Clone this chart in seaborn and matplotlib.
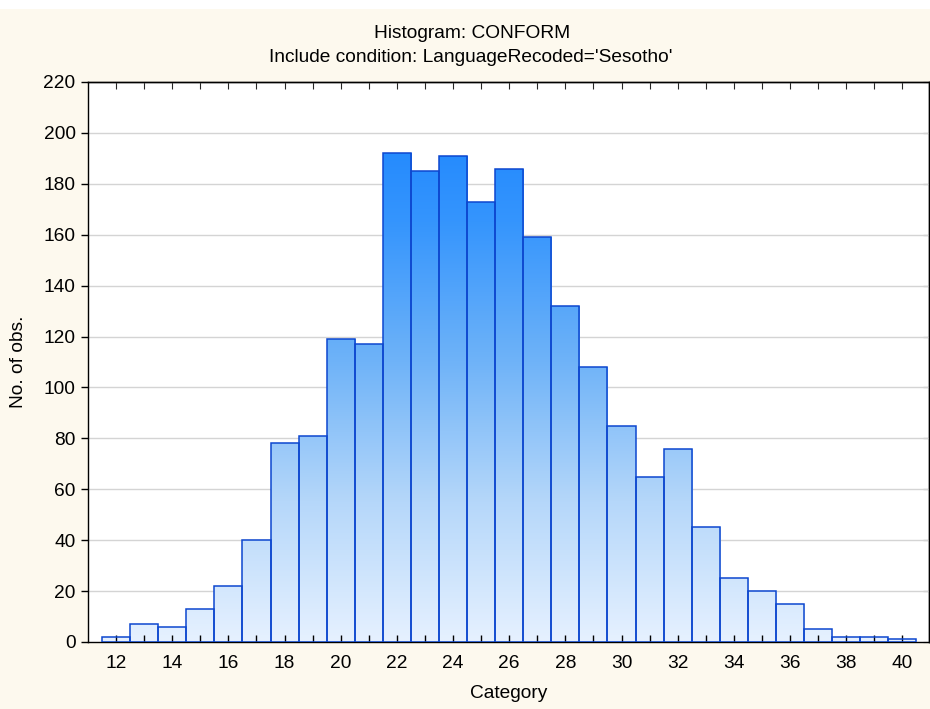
import matplotlib
matplotlib.use("Agg")
import matplotlib.pyplot as plt
import numpy as np
import pandas as pd
import seaborn as sns
from matplotlib.colors import LinearSegmentedColormap
from matplotlib.patches import Rectangle

# Counts (one bar per integer category)
categories = list(range(12, 41))
counts = [2, 7, 6, 13, 22, 40, 78, 81, 119, 117,
          192, 185, 191, 173, 186, 159, 132, 108, 85, 65,
          76, 45, 25, 20, 15, 5, 2, 2, 1]
y_ticks = list(range(0, 221, 20))
x_ticks = list(range(12, 41, 2))

title_1 = "Histogram: CONFORM"
title_2 = "Include condition: LanguageRecoded='Sesotho'"

BG = "#FDF9EE"
EDGE = "#0D47CF"
FS = 13.8

sns.set_style("white")
plt.rcParams["font.family"] = ["Liberation Sans", "DejaVu Sans"]
plt.rcParams["text.color"] = "black"
plt.rcParams["axes.labelcolor"] = "black"

df = pd.DataFrame({"Category": categories, "n": counts})

fig = plt.figure(figsize=(9.3, 7.09), dpi=100, facecolor=BG)
# thin white strip along the top like the screenshot
fig.add_artist(Rectangle((0, 1 - 9 / 709), 1, 9 / 709, transform=fig.transFigure,
                         facecolor="white", edgecolor="none", zorder=0))
ax = fig.add_axes([88 / 930, 67 / 709, 841 / 930, 560 / 709])
ax.set_facecolor("white")

sns.histplot(data=df, x="Category", weights="n", discrete=True, ax=ax,
             facecolor="none", edgecolor=EDGE, linewidth=1.1, alpha=1, zorder=3)

# vertical gradient, shared over the whole plot height, clipped to each bar
cmap = LinearSegmentedColormap.from_list(
    "grad", ["#E6F1FF", "#B5D7FA", "#6FB3F8", "#3595FD", "#1581FF"])
grad = np.linspace(0, 1, 256).reshape(-1, 1)
for p in ax.patches:
    x0, w = p.get_x(), p.get_width()
    im = ax.imshow(grad, extent=[x0, x0 + w, 0, 220], origin="lower",
                   aspect="auto", cmap=cmap, vmin=0, vmax=1, zorder=2)
    im.set_clip_path(p)
ax.set_xlim(11.0, 40.95)
ax.set_ylim(0, 220)

# grid under the bars, ticks over them
ax.hlines(y_ticks[1:], 11.0, 40.95, color="#D4D4D4", linewidth=1, zorder=1)
ax.set_axisbelow(False)

ax.set_yticks(y_ticks)
ax.set_xticks(x_ticks)
ax.set_xticks([c for c in categories if c % 2 == 1], minor=True)

ax.tick_params(axis="y", which="both", direction="out", length=5, width=1,
               labelsize=FS, colors="black", left=True, right=False, pad=4)
ax.tick_params(axis="x", which="both", direction="in", length=5, width=1,
               labelsize=FS, colors="black", bottom=True, top=False, pad=9)

sec_y = ax.secondary_yaxis("right")
sec_y.set_yticks(y_ticks)
sec_y.tick_params(direction="in", length=4, labelright=False)
sec_x = ax.secondary_xaxis("top")
sec_x.set_xticks(categories)
sec_x.tick_params(direction="in", length=5, labeltop=False)

for s in list(ax.spines.values()) + [sec_y.spines["right"], sec_x.spines["top"]]:
    s.set_color("black")
    s.set_linewidth(1)

ax.set_xlabel("Category", fontsize=FS, labelpad=10)
ax.set_ylabel("No. of obs.", fontsize=FS, labelpad=12)

fig.text(472 / 930, 1 - 33 / 709, title_1, ha="center", va="center", fontsize=FS)
fig.text(471 / 930, 1 - 58 / 709, title_2, ha="center", va="center", fontsize=FS)

fig.savefig("out.png", dpi=100, facecolor=BG)
